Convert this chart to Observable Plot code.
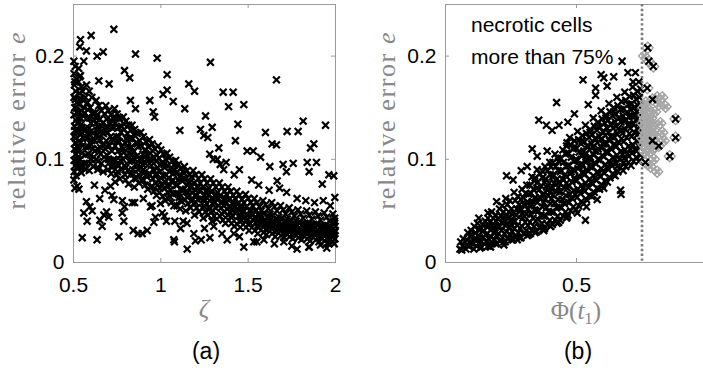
<!DOCTYPE html>
<html><head><meta charset="utf-8">
<script src="https://cdn.jsdelivr.net/npm/d3@7"></script>
<script src="https://cdn.jsdelivr.net/npm/@observablehq/plot@0.6"></script>
<style>
html,body{margin:0;padding:0;background:#fff;overflow:hidden;}
#wrap{position:relative;width:703px;height:382px;overflow:hidden;background:#fff;}
#wrap svg{position:absolute;top:0;}
</style></head><body><div id="wrap"></div>
<script>
// ---------- tick values & labels ----------
const zetaTicks = [0.5, 1, 1.5, 2];
const phiTicks = [0, 0.5, 1];
const eTicks = [0, 0.1, 0.2];
const yLabelText = "relative error ";
const yLabelVar = "e";
const xLabelA = "ζ";
const captionA = "(a)";
const captionB = "(b)";
const noteLines = ["necrotic cells", "more than 75%"];
const necroThreshold = 0.75;

// ---------- panel (a): dense band (zeta, e) ----------
const bandA = [
[.502,.195],[.51,.19],[.503,.183],[.515,.178],[.505,.172],[.512,.166],[.503,.16],[.518,.155],[.507,.15],[.503,.143],[.514,.138],[.506,.132],[.518,.127],[.503,.122],[.511,.116],[.505,.11],[.516,.105],[.503,.099],[.51,.094],[.504,.088],[.515,.084],[.502,.08],[.508,.072],[.52,.145],[.52,.112],[.52,.1],
[.53,.188],[.54,.181],[.528,.175],[.545,.17],[.535,.164],[.55,.158],[.532,.153],[.545,.147],[.555,.142],[.535,.136],[.548,.131],[.53,.126],[.555,.121],[.54,.116],[.528,.111],[.55,.106],[.537,.1],[.56,.096],[.53,.092],[.545,.087],[.558,.128],[.56,.15],[.525,.145],[.525,.098],
[.575,.172],[.59,.166],[.605,.16],[.58,.155],[.595,.15],[.61,.145],[.578,.14],[.6,.135],[.588,.13],[.612,.125],[.58,.12],[.598,.115],[.61,.11],[.585,.105],[.6,.1],[.575,.096],[.612,.093],[.59,.089],[.57,.13],[.57,.112],[.62,.138],[.62,.118],
[.63,.157],[.645,.152],[.66,.147],[.635,.143],[.652,.139],[.668,.135],[.64,.131],[.658,.127],[.63,.123],[.65,.119],[.665,.114],[.638,.11],[.655,.105],[.632,.1],[.66,.096],[.645,.091],[.67,.088],[.628,.135],[.672,.125],[.675,.102],
[.685,.152],[.7,.147],[.715,.143],[.69,.139],[.708,.135],[.722,.13],[.695,.126],[.712,.122],[.688,.118],[.705,.113],[.72,.108],[.692,.104],[.71,.099],[.725,.095],[.698,.09],[.715,.086],[.728,.14],[.728,.118],
[.735,.149],[.75,.144],[.765,.14],[.74,.135],[.758,.131],[.772,.126],[.745,.122],[.762,.117],[.738,.113],[.755,.108],[.77,.104],[.742,.099],[.76,.094],[.775,.09],[.748,.085],[.765,.081],[.738,.078],[.778,.112],
[.785,.141],[.8,.137],[.815,.133],[.79,.129],[.808,.125],[.822,.12],[.795,.116],[.812,.111],[.788,.107],[.805,.103],[.82,.098],[.792,.094],[.81,.089],[.825,.085],[.798,.08],[.815,.076],[.828,.128],[.782,.1],
[.835,.133],[.85,.129],[.865,.125],[.84,.12],[.858,.116],[.872,.112],[.845,.108],[.862,.103],[.838,.099],[.855,.095],[.87,.09],[.842,.086],[.86,.081],[.875,.077],[.848,.073],[.878,.1],
[.885,.126],[.9,.122],[.915,.117],[.89,.113],[.908,.109],[.922,.104],[.895,.1],[.912,.096],[.888,.092],[.905,.087],[.92,.083],[.893,.079],[.91,.075],[.925,.071],[.928,.112],
[.935,.119],[.95,.115],[.965,.11],[.94,.106],[.958,.102],[.972,.098],[.945,.094],[.962,.089],[.938,.085],[.955,.081],[.97,.077],[.943,.073],[.96,.069],[.975,.065],[.978,.104],
[.985,.113],[1.0,.109],[1.015,.105],[.99,.101],[1.008,.097],[1.022,.092],[.995,.088],[1.012,.084],[.988,.08],[1.005,.076],[1.02,.072],[.993,.068],[1.01,.064],[1.025,.06],[1.028,.1],[.998,.057],
[1.035,.106],[1.05,.102],[1.065,.098],[1.04,.094],[1.058,.09],[1.072,.086],[1.045,.082],[1.062,.078],[1.038,.074],[1.055,.07],[1.07,.066],[1.043,.062],[1.06,.058],[1.075,.055],[1.078,.094],
[1.085,.099],[1.1,.095],[1.115,.091],[1.09,.087],[1.108,.083],[1.122,.079],[1.095,.075],[1.112,.071],[1.088,.067],[1.105,.063],[1.12,.059],[1.093,.055],[1.11,.052],[1.125,.088],
[1.135,.093],[1.15,.089],[1.165,.085],[1.14,.081],[1.158,.077],[1.172,.073],[1.145,.069],[1.162,.065],[1.138,.061],[1.155,.057],[1.17,.053],[1.143,.05],[1.175,.083],
[1.185,.089],[1.2,.085],[1.215,.081],[1.19,.077],[1.208,.073],[1.222,.069],[1.195,.065],[1.212,.061],[1.188,.057],[1.205,.053],[1.22,.049],[1.193,.046],[1.225,.077],
[1.235,.085],[1.25,.081],[1.265,.077],[1.24,.073],[1.258,.069],[1.272,.065],[1.245,.061],[1.262,.057],[1.238,.053],[1.255,.049],[1.27,.046],[1.243,.043],[1.275,.072],
[1.285,.081],[1.3,.077],[1.315,.073],[1.29,.069],[1.308,.065],[1.322,.061],[1.295,.057],[1.312,.053],[1.288,.049],[1.305,.045],[1.32,.042],[1.293,.04],[1.325,.068],
[1.335,.077],[1.35,.073],[1.365,.069],[1.34,.065],[1.358,.061],[1.372,.057],[1.345,.053],[1.362,.049],[1.338,.045],[1.355,.041],[1.37,.038],[1.375,.066],
[1.385,.073],[1.4,.069],[1.415,.065],[1.39,.061],[1.408,.057],[1.422,.053],[1.395,.049],[1.412,.045],[1.388,.041],[1.405,.038],[1.42,.035],[1.425,.062],
[1.435,.069],[1.45,.065],[1.465,.061],[1.44,.057],[1.458,.053],[1.472,.049],[1.445,.045],[1.462,.041],[1.438,.037],[1.455,.034],[1.475,.058],
[1.485,.066],[1.5,.062],[1.515,.058],[1.49,.054],[1.508,.05],[1.522,.046],[1.495,.042],[1.512,.038],[1.488,.034],[1.505,.031],[1.525,.055],
[1.535,.062],[1.55,.058],[1.565,.054],[1.54,.05],[1.558,.046],[1.572,.042],[1.545,.038],[1.562,.034],[1.538,.031],[1.555,.028],[1.575,.05],
[1.585,.06],[1.6,.056],[1.615,.052],[1.59,.048],[1.608,.044],[1.622,.04],[1.595,.036],[1.612,.032],[1.588,.029],[1.605,.027],[1.625,.047],
[1.635,.058],[1.65,.054],[1.665,.05],[1.64,.046],[1.658,.042],[1.672,.038],[1.645,.034],[1.662,.031],[1.638,.028],[1.655,.025],[1.675,.044],
[1.685,.055],[1.7,.051],[1.715,.047],[1.69,.043],[1.708,.039],[1.722,.035],[1.695,.032],[1.712,.029],[1.688,.026],[1.705,.024],[1.725,.042],
[1.735,.053],[1.75,.049],[1.765,.045],[1.74,.041],[1.758,.037],[1.772,.034],[1.745,.031],[1.762,.028],[1.738,.025],[1.755,.023],[1.775,.04],
[1.785,.051],[1.8,.047],[1.815,.043],[1.79,.039],[1.808,.036],[1.822,.033],[1.795,.03],[1.812,.027],[1.788,.024],[1.805,.022],[1.825,.038],
[1.835,.05],[1.85,.046],[1.865,.042],[1.84,.038],[1.858,.035],[1.872,.032],[1.845,.029],[1.862,.026],[1.838,.023],[1.855,.021],[1.875,.037],
[1.885,.049],[1.9,.045],[1.915,.041],[1.89,.037],[1.908,.034],[1.922,.031],[1.895,.028],[1.912,.025],[1.888,.022],[1.905,.02],[1.925,.036],
[1.935,.048],[1.95,.044],[1.965,.04],[1.94,.036],[1.958,.033],[1.972,.03],[1.945,.027],[1.962,.024],[1.938,.021],[1.955,.019],[1.975,.035],
[1.985,.047],[1.995,.043],[1.99,.039],[1.998,.035],[1.983,.032],[1.993,.029],[1.987,.026],[1.997,.023],[1.985,.02],[1.993,.018],[1.998,.031]
];
// extra points inside the dense part of the band (zeta, e)
const coreA = [
[.515,.15],[.522,.135],[.512,.12],[.524,.108],[.517,.092],[.535,.18],[.552,.166],[.538,.14],[.542,.124],[.552,.113],[.538,.093],
[.568,.16],[.583,.148],[.593,.124],[.568,.104],[.604,.118],[.598,.096],[.625,.145],[.643,.128],[.657,.111],[.64,.098],[.622,.108],
[.678,.144],[.698,.131],[.682,.11],[.702,.096],[.722,.12],[.733,.131],[.752,.118],[.73,.1],[.768,.099],[.752,.088],
[.79,.134],[.802,.12],[.818,.106],[.8,.092],[.83,.112],[.845,.124],[.852,.1],[.868,.094],[.852,.082],[.88,.118],[.898,.105],[.902,.09],[.918,.1],[.9,.08],
[.93,.112],[.948,.098],[.968,.085],[.95,.074],[.982,.092],[1.0,.082],[1.018,.095],[.995,.072],[1.03,.085],[1.048,.088],[1.052,.075],[1.068,.08],[1.05,.064],
[1.08,.09],[1.1,.08],[1.118,.084],[1.1,.067],[1.128,.07],[1.15,.075],[1.165,.078],[1.152,.063],[1.178,.068],[1.2,.07],[1.215,.074],[1.2,.058],[1.23,.062],
[1.25,.065],[1.268,.07],[1.25,.054],[1.28,.06],[1.3,.062],[1.318,.066],[1.3,.05],[1.33,.055],[1.35,.058],[1.368,.062],[1.35,.047],[1.38,.052],
[1.4,.054],[1.418,.058],[1.4,.044],[1.43,.048],[1.45,.05],[1.468,.054],[1.45,.04],[1.48,.044],[1.5,.046],[1.518,.05],[1.5,.037],[1.53,.041],
[1.55,.043],[1.568,.047],[1.55,.035],[1.58,.038],[1.6,.041],[1.618,.045],[1.6,.032],[1.63,.035],[1.65,.038],[1.668,.042],[1.65,.03],[1.68,.033],
[1.7,.036],[1.718,.04],[1.7,.028],[1.73,.031],[1.75,.035],[1.768,.038],[1.75,.027],[1.78,.03],[1.8,.033],[1.818,.037],[1.8,.026],[1.83,.029],
[1.85,.032],[1.868,.036],[1.85,.025],[1.88,.028],[1.9,.031],[1.918,.035],[1.9,.024],[1.93,.027],[1.95,.03],[1.968,.034],[1.95,.023],[1.98,.026],[1.99,.037],
[.508,.175],[.51,.158],[.508,.128],[.512,.105],[.535,.158],[.54,.133],[.532,.118],[.548,.095],[.565,.145],[.572,.122],[.568,.09],[.592,.14],[.585,.112],[.605,.128],[.615,.102],[.632,.14],[.648,.122],[.638,.09],[.662,.132],[.675,.115],[.69,.13],[.7,.1],[.712,.138],[.72,.092],[.745,.14],[.76,.122],[.75,.095],[.775,.132],[.785,.11],[.81,.118],[.795,.085],[.835,.105],[.84,.09],[.865,.115],[.875,.085],[.895,.095],[.915,.085],[.935,.1],[.955,.09],[.98,.075],[1.0,.095],[1.025,.078],[1.04,.068],[1.06,.092],[1.088,.075],[1.11,.06],[1.13,.082],[1.155,.068],[1.18,.06],[1.205,.065],[1.228,.07],[1.255,.06],[1.28,.052],[1.308,.058],[1.33,.062],[1.36,.055],[1.385,.046],[1.41,.05],[1.44,.052],[1.46,.045],[1.49,.04],[1.51,.044],[1.54,.044],[1.565,.038],[1.59,.04],[1.61,.036],[1.64,.04],[1.665,.034],[1.69,.037],[1.71,.032],[1.74,.036],[1.765,.03],[1.79,.033],[1.81,.03],[1.84,.034],[1.865,.028],[1.89,.03],[1.91,.027],[1.94,.032],[1.965,.026],[1.988,.028],[1.995,.04]
];
// ---------- panel (a): scattered points ----------
const scatterA = [
[.731,.226],[.601,.220],[.540,.216],[.536,.209],[.574,.205],[.635,.200],[.670,.204],[.855,.202],[.979,.198],[1.284,.194],[.559,.195],[.792,.186],[.822,.179],[1.036,.182],[1.160,.173],[1.193,.166],[1.662,.177],[.645,.176],[.704,.173],[1.013,.163],[1.036,.167],[1.071,.156],[.937,.157],[1.137,.149],[1.256,.142],[1.294,.131],[1.227,.129],[1.357,.165],[1.414,.165],[1.388,.151],[1.475,.153],[1.441,.134],[1.427,.118],[1.246,.123],[1.269,.121],[1.109,.128],[1.599,.126],[1.723,.127],[1.786,.127],[1.815,.137],[1.943,.133],[1.662,.114],[1.637,.115],[1.876,.115],[1.857,.111],[1.571,.102],[1.494,.108],[1.529,.108],[1.700,.095],[1.758,.096],[1.838,.097],[1.891,.097],[1.719,.088],[1.849,.088],[1.924,.076],[1.962,.085],[1.990,.084],[1.996,.063],[1.624,.093],[1.666,.079],[1.332,.111],[1.374,.097],[1.323,.100],[.964,.141],[.956,.146],[.855,.149],[.826,.157],
[.550,.024],[.635,.022],[.760,.025],[.842,.031],[.870,.028],[.893,.028],[.922,.031],[1.074,.022],[1.078,.020],[1.151,.013],[1.198,.021],[1.231,.022],[1.281,.024],[.559,.048],[.574,.059],[.593,.054],[.607,.050],[.578,.040],[.521,.074],[.531,.071],[.651,.041],[.674,.046],[.689,.049],[.702,.044],[.664,.035],[.712,.074],[.731,.061],[.779,.048],[.792,.054],[.788,.040],[.836,.058],[.941,.054],[.969,.044],[.960,.039],[1.008,.048],[1.032,.040],[1.113,.033],[1.128,.040],[1.189,.028],[1.303,.035],[1.380,.022],[1.418,.028],[1.475,.015],[1.532,.020],[1.590,.022],[1.704,.020],[1.780,.013],[1.847,.015],[1.914,.017],[1.962,.018],
[1.3,.1],[1.34,.095],[1.28,.105],[1.36,.09],[1.42,.085],[1.45,.09],[1.52,.08],[1.56,.075],[1.62,.07],[1.68,.072],[1.72,.068],[1.78,.062],[1.83,.06],[1.88,.058],[1.93,.06],[1.97,.055],[1.02,.045],[1.08,.04],[1.15,.038],[1.25,.033],[1.35,.028],[1.45,.025],[1.55,.02],[1.65,.018],[1.75,.016],[1.85,.015],[1.95,.014],[.62,.075],[.68,.07],[.72,.065],[.78,.06],[.85,.058],[.9,.062],[.95,.055],[.65,.062]
];

// ---------- panel (b): dense cloud (Phi, e) ----------
const cloudB = [
[.055,.013],[.065,.016],[.058,.02],[.068,.023],[.062,.012],
[.078,.013],[.088,.016],[.097,.019],[.082,.022],[.093,.025],[.085,.029],[.098,.031],[.08,.017],
[.108,.013],[.118,.016],[.128,.019],[.112,.022],[.124,.026],[.115,.029],[.128,.032],[.11,.035],[.122,.038],[.132,.014],
[.138,.015],[.148,.018],[.158,.021],[.142,.024],[.154,.027],[.145,.031],[.16,.034],[.14,.037],[.152,.04],[.162,.043],[.162,.016],
[.168,.016],[.178,.019],[.188,.022],[.172,.025],[.184,.029],[.175,.032],[.19,.036],[.17,.039],[.182,.043],[.192,.046],[.176,.049],[.192,.018],
[.198,.018],[.208,.021],[.218,.024],[.202,.028],[.214,.031],[.205,.035],[.22,.038],[.2,.042],[.212,.045],[.222,.049],[.206,.052],[.216,.055],[.222,.02],
[.228,.02],[.238,.023],[.248,.027],[.232,.03],[.244,.034],[.235,.038],[.25,.041],[.23,.045],[.242,.049],[.252,.052],[.236,.056],[.246,.06],[.252,.022],[.23,.062],
[.258,.022],[.268,.025],[.278,.029],[.262,.033],[.274,.036],[.265,.04],[.28,.044],[.26,.048],[.272,.052],[.282,.056],[.266,.06],[.276,.064],[.262,.068],[.282,.024],
[.288,.024],[.298,.028],[.308,.031],[.292,.035],[.304,.039],[.295,.043],[.31,.047],[.29,.051],[.302,.055],[.312,.059],[.296,.063],[.306,.067],[.292,.071],[.31,.075],[.312,.026],
[.318,.027],[.328,.031],[.338,.035],[.322,.039],[.334,.043],[.325,.047],[.34,.051],[.32,.055],[.332,.059],[.342,.063],[.326,.067],[.336,.071],[.322,.075],[.34,.079],[.33,.083],[.342,.029],
[.348,.03],[.358,.034],[.368,.038],[.352,.042],[.364,.046],[.355,.05],[.37,.054],[.35,.058],[.362,.062],[.372,.066],[.356,.07],[.366,.074],[.352,.078],[.37,.082],[.36,.086],[.35,.09],[.372,.032],
[.378,.033],[.388,.037],[.398,.041],[.382,.045],[.394,.049],[.385,.053],[.4,.057],[.38,.061],[.392,.065],[.402,.069],[.386,.073],[.396,.077],[.382,.081],[.4,.085],[.39,.089],[.38,.093],[.398,.097],[.402,.035],
[.408,.037],[.418,.041],[.428,.045],[.412,.049],[.424,.053],[.415,.057],[.43,.061],[.41,.065],[.422,.069],[.432,.073],[.416,.077],[.426,.081],[.412,.085],[.43,.089],[.42,.093],[.41,.097],[.428,.101],[.418,.105],[.432,.039],
[.438,.041],[.448,.045],[.458,.049],[.442,.053],[.454,.057],[.445,.061],[.46,.065],[.44,.069],[.452,.073],[.462,.077],[.446,.081],[.456,.085],[.442,.089],[.46,.093],[.45,.097],[.44,.101],[.458,.105],[.448,.109],[.462,.113],[.462,.043],
[.468,.046],[.478,.05],[.488,.054],[.472,.058],[.484,.062],[.475,.066],[.49,.07],[.47,.074],[.482,.078],[.492,.082],[.476,.086],[.486,.09],[.472,.094],[.49,.098],[.48,.102],[.47,.106],[.488,.11],[.478,.114],[.492,.118],[.474,.121],
[.498,.051],[.508,.055],[.518,.059],[.502,.063],[.514,.067],[.505,.071],[.52,.075],[.5,.079],[.512,.083],[.522,.087],[.506,.091],[.516,.095],[.502,.099],[.52,.103],[.51,.107],[.5,.111],[.518,.115],[.508,.119],[.522,.123],[.504,.127],
[.528,.057],[.538,.061],[.548,.065],[.532,.069],[.544,.073],[.535,.077],[.55,.081],[.53,.085],[.542,.089],[.552,.093],[.536,.097],[.546,.101],[.532,.105],[.55,.109],[.54,.113],[.53,.117],[.548,.121],[.538,.125],[.552,.129],[.534,.133],
[.558,.064],[.568,.068],[.578,.072],[.562,.076],[.574,.08],[.565,.084],[.58,.088],[.56,.092],[.572,.096],[.582,.1],[.566,.104],[.576,.108],[.562,.112],[.58,.116],[.57,.12],[.56,.124],[.578,.128],[.568,.132],[.582,.136],[.564,.14],
[.588,.071],[.598,.075],[.608,.079],[.592,.083],[.604,.087],[.595,.091],[.61,.095],[.59,.099],[.602,.103],[.612,.107],[.596,.111],[.606,.115],[.592,.119],[.61,.123],[.6,.127],[.59,.131],[.608,.135],[.598,.139],[.612,.143],[.594,.147],
[.618,.078],[.628,.082],[.638,.086],[.622,.09],[.634,.094],[.625,.098],[.64,.102],[.62,.106],[.632,.11],[.642,.114],[.626,.118],[.636,.122],[.622,.126],[.64,.13],[.63,.134],[.62,.138],[.638,.142],[.628,.146],[.642,.15],[.624,.154],
[.648,.084],[.658,.088],[.668,.092],[.652,.096],[.664,.1],[.655,.104],[.67,.108],[.65,.112],[.662,.116],[.672,.12],[.656,.124],[.666,.128],[.652,.132],[.67,.136],[.66,.14],[.65,.144],[.668,.148],[.658,.152],[.672,.156],[.654,.16],
[.678,.089],[.688,.093],[.698,.097],[.682,.101],[.694,.105],[.685,.109],[.7,.113],[.68,.117],[.692,.121],[.702,.125],[.686,.129],[.696,.133],[.682,.137],[.7,.141],[.69,.145],[.68,.149],[.698,.153],[.688,.157],[.702,.161],[.684,.165],
[.708,.094],[.718,.098],[.728,.102],[.712,.106],[.724,.11],[.715,.114],[.73,.118],[.71,.122],[.722,.126],[.732,.13],[.716,.134],[.726,.138],[.712,.142],[.73,.146],[.72,.15],[.71,.154],[.728,.158],[.718,.162],[.732,.166],[.714,.17],
[.738,.098],[.745,.104],[.74,.112],[.746,.12],[.738,.128],[.744,.136],[.739,.144],[.746,.152],[.74,.16],[.745,.168],[.738,.175]
];
// extra points inside the dense part of the cloud (Phi, e)
const coreB = [
[.1,.02],[.13,.024],[.16,.028],[.185,.033],[.2,.035],[.225,.04],[.245,.044],[.255,.036],[.27,.046],[.285,.05],[.3,.045],[.315,.052],[.33,.056],[.345,.05],
[.36,.063],[.375,.058],[.39,.07],[.405,.062],[.42,.075],[.435,.068],[.45,.08],[.465,.072],[.48,.088],[.495,.08],[.51,.094],[.525,.088],[.54,.1],
[.555,.095],[.57,.108],[.585,.1],[.6,.115],[.615,.108],[.63,.122],[.645,.115],[.66,.13],[.675,.125],[.69,.138],[.705,.13],[.72,.142],[.735,.135],[.735,.152],
[.105,.018],[.102,.027],[.135,.02],[.133,.032],[.165,.023],[.163,.036],[.195,.026],[.193,.04],[.19,.029],
[.225,.028],[.222,.044],[.228,.036],[.255,.03],[.252,.047],[.258,.04],[.285,.033],[.283,.052],[.288,.061],
[.315,.036],[.313,.057],[.318,.066],[.345,.04],[.343,.062],[.348,.072],[.342,.082],
[.375,.045],[.373,.067],[.378,.078],[.372,.088],[.405,.049],[.403,.072],[.408,.083],[.402,.093],
[.435,.054],[.433,.077],[.438,.088],[.432,.098],[.465,.059],[.463,.083],[.468,.094],[.462,.106],
[.495,.066],[.493,.089],[.498,.1],[.492,.112],[.525,.072],[.523,.095],[.528,.108],[.522,.118],
[.555,.078],[.553,.102],[.558,.115],[.552,.126],[.585,.086],[.583,.11],[.588,.122],[.582,.132],
[.615,.092],[.613,.116],[.618,.13],[.612,.14],[.645,.1],[.643,.122],[.648,.136],[.642,.146],
[.675,.105],[.673,.128],[.678,.142],[.705,.11],[.703,.134],[.708,.148],[.73,.108],[.733,.124]
];
const scatterB = [
[.233,.084],[.356,.138],[.385,.133],[.407,.128],[.433,.133],[.467,.136],[.424,.155],[.492,.144],[.525,.177],[.545,.153],[.573,.169],[.594,.182],[.604,.179],[.617,.171],[.642,.180],[.674,.195],[.696,.184],[.725,.184],[.716,.175],[.573,.162],[.534,.041],[.538,.054],[.579,.061],[.668,.070],[.670,.066],[.604,.072],[.127,.043],[.195,.059],[.162,.048],[.289,.089],[.258,.080],[.312,.093],[.35,.103],[.331,.110],[.388,.108],[.464,.116],[.617,.092],[.642,.085],[.655,.093],[.681,.097],[.700,.103],[.274,.022],[.324,.028],[.375,.031],[.426,.038],[.464,.044],[.40,.035],[.503,.048],[.223,.017],[.172,.015]
];
// ---------- panel (b): necrotic > 75% cases (Phi, e, black marker?) ----------
const necroB = [
[.772,.208,1],[.776,.195,1],[.793,.190,1],[.758,.2,0],
[.770,.169,1],[.808,.160,0],[.827,.160,0],[.840,.151,0],[.814,.153,0],[.79,.158,1],
[.878,.139,1],[.878,.121,1],[.856,.103,1],
[.827,.126,0],[.833,.118,0],[.814,.113,1],[.82,.135,0],
[.763,.097,1],[.782,.093,0],[.808,.088,0],[.795,.1,0],
[.755,.15,0],[.765,.145,0],[.775,.148,0],[.76,.138,0],[.772,.135,0],[.785,.14,0],[.758,.128,0],[.77,.125,0],[.782,.13,0],[.795,.128,0],[.762,.118,0],[.775,.115,0],[.79,.118,1],[.758,.108,0],[.77,.105,0],[.785,.108,0],[.8,.112,0],[.765,.155,0],[.752,.135,0],[.752,.12,0],
[.756,.143,0],[.766,.132,0],[.778,.142,0],[.764,.124,0],[.78,.122,0],[.768,.112,0],[.79,.134,0],[.756,.114,0],[.803,.122,0],[.8,.146,0]
];

// ---------- styles ----------
const SANS = "'Liberation Sans', Arial, Helvetica, sans-serif";
const SERIF = "'Liberation Serif', 'Times New Roman', serif";
const GREY = "#888";
const FRAME = "#9a9a9a";
const innerW = 262, innerH = 258;

function ticksMarks(xt, yt) {
  return [
    Plot.tickX(xt, {x: d => d, insetTop: innerH - 4, stroke: FRAME}),
    Plot.tickX(xt, {x: d => d, insetBottom: innerH - 4, stroke: FRAME}),
    Plot.tickY(yt, {y: d => d, insetRight: innerW - 4, stroke: FRAME}),
    Plot.tickY(yt, {y: d => d, insetLeft: innerW - 4, stroke: FRAME})
  ];
}
function axes(xt, yt) {
  return [
    Plot.axisX(xt, {tickSize: 0, tickPadding: 15, label: null, fontSize: 21, fill: "black", tickFormat: d => String(d)}),
    Plot.axisY(yt, {tickSize: 0, tickPadding: 9, label: null, fontSize: 21, fill: "black", tickFormat: d => String(d)})
  ];
}
const crossStyle = {x: d => d[0], y: d => d[1], symbol: "times", r: 3.2, stroke: "black", strokeWidth: 2.2};

const chartA = Plot.plot({
  width: 350, height: 382,
  marginLeft: 73, marginRight: 15, marginTop: 4, marginBottom: 120,
  style: {fontFamily: SANS, fontSize: "21px", background: "transparent", overflow: "visible"},
  x: {domain: [0.5, 2]},
  y: {domain: [0, 0.25]},
  marks: [
    Plot.frame({stroke: FRAME}),
    ...ticksMarks(zetaTicks, eTicks),
    Plot.dot(bandA, crossStyle),
    Plot.dot(coreA, crossStyle),
    Plot.dot(scatterA, crossStyle),
    ...axes(zetaTicks, eTicks)
  ]
});

const chartB = Plot.plot({
  width: 370, height: 382,
  marginLeft: 95, marginRight: 13, marginTop: 4, marginBottom: 120,
  style: {fontFamily: SANS, fontSize: "21px", background: "transparent", overflow: "visible"},
  x: {domain: [0, 1]},
  y: {domain: [0, 0.25]},
  marks: [
    Plot.frame({stroke: FRAME}),
    ...ticksMarks(phiTicks, eTicks),
    Plot.ruleX([necroThreshold], {stroke: "#7a7a7a", strokeWidth: 2.6, strokeDasharray: "2.4,2.4"}),
    Plot.dot(cloudB, crossStyle),
    Plot.dot(coreB, crossStyle),
    Plot.dot(scatterB, crossStyle),
    Plot.dot(necroB, {x: d => d[0], y: d => d[1], symbol: "diamond2", r: 5, stroke: "#9c9c9c", strokeWidth: 1.3}),
    Plot.dot(necroB.filter(d => !d[2]), {...crossStyle, stroke: "#a8a8a8", strokeWidth: 2.8}),
    Plot.dot(necroB.filter(d => d[2]), crossStyle),
    ...axes(phiTicks, eTicks)
  ]
});

const wrap = document.getElementById("wrap");
chartA.style.left = "0px";
chartB.style.left = "350px";
wrap.appendChild(chartA);
wrap.appendChild(chartB);

function yLabel(svg, x) {
  const t = d3.select(svg).append("text")
    .attr("transform", `translate(${x},121) rotate(-90)`)
    .attr("text-anchor", "middle")
    .attr("font-family", SERIF).attr("font-size", 26).attr("fill", GREY)
    .attr("textLength", 177).attr("lengthAdjust", "spacing");
  t.append("tspan").text(yLabelText);
  t.append("tspan").attr("font-style", "italic").text(yLabelVar);
}
yLabel(chartA, 25);
yLabel(chartB, 45);

// x labels
d3.select(chartA).append("text")
  .attr("x", 204).attr("y", 317).attr("text-anchor", "middle")
  .attr("font-family", SERIF).attr("font-size", 26).attr("font-style", "italic").attr("fill", GREY)
  .text(xLabelA);
const xb = d3.select(chartB).append("text")
  .attr("x", 226).attr("y", 319).attr("text-anchor", "middle")
  .attr("font-family", SERIF).attr("font-size", 25).attr("fill", GREY);
xb.append("tspan").text("Φ(");
xb.append("tspan").attr("font-style", "italic").text("t");
xb.append("tspan").attr("font-size", 17).attr("dy", 5).text("1");
xb.append("tspan").attr("dy", -5).text(")");

// captions
d3.select(chartA).append("text")
  .attr("x", 206).attr("y", 359).attr("text-anchor", "middle")
  .attr("font-family", SANS).attr("font-size", 23).attr("fill", "black").text(captionA);
d3.select(chartB).append("text")
  .attr("x", 228).attr("y", 359).attr("text-anchor", "middle")
  .attr("font-family", SANS).attr("font-size", 23).attr("fill", "black").text(captionB);

// annotation
noteLines.forEach((s, i) => {
  d3.select(chartB).append("text")
    .attr("x", 121).attr("y", 32 + i * 32).attr("text-anchor", "start")
    .attr("font-family", SANS).attr("font-size", 21).attr("fill", "black").text(s);
});
</script></body></html>
